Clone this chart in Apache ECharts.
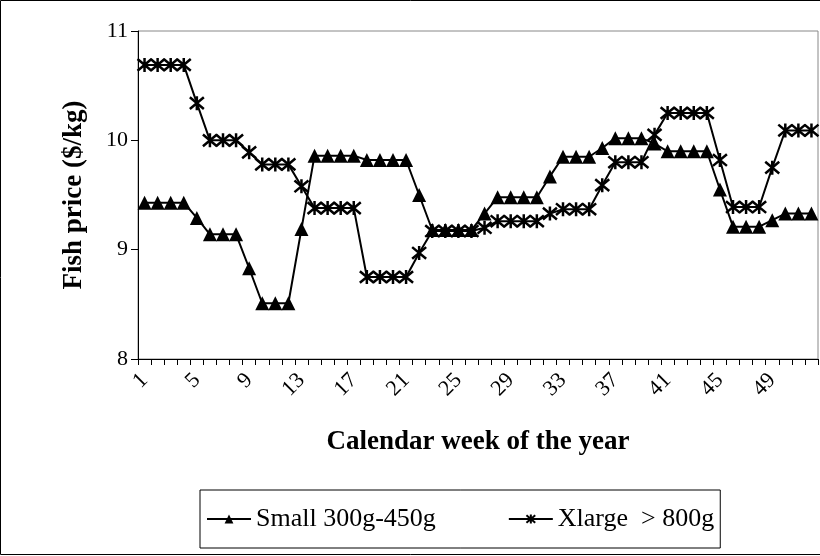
<!DOCTYPE html>
<html>
<head>
<meta charset="utf-8">
<script src="https://cdn.jsdelivr.net/npm/echarts@6/dist/echarts.min.js"></script>
<style>
  html,body{margin:0;padding:0;background:#fff;}
  #main{width:820px;height:556px;}
</style>
</head>
<body>
<div id="main"></div>
<script>
// calendar weeks
var weeks = ['1','2','3','4','5','6','7','8','9','10','11','12','13','14','15','16','17','18','19','20','21','22','23','24','25','26',
  '27','28','29','30','31','32','33','34','35','36','37','38','39','40','41','42','43','44','45','46','47','48','49','50','51','52'];

// Small 300g-450g
var smallPrice = [9.43,9.43,9.43,9.43,9.29,9.14,9.14,9.14,8.83,8.51,8.51,8.51,9.19,9.86,9.86,9.86,9.86,9.82,9.82,9.82,9.82,9.50,
  9.18,9.18,9.18,9.18,9.33,9.48,9.48,9.48,9.48,9.67,9.85,9.85,9.85,9.93,10.02,10.02,10.02,9.97,9.90,9.90,9.90,9.90,
  9.55,9.21,9.21,9.21,9.27,9.33,9.33,9.33];

// Xlarge > 800g
var xlargePrice = [10.69,10.69,10.69,10.69,10.34,10.0,10.0,10.0,9.89,9.78,9.78,9.78,9.58,9.38,9.38,9.38,9.38,8.75,8.75,8.75,8.75,8.97,
  9.17,9.17,9.17,9.17,9.20,9.26,9.26,9.26,9.26,9.33,9.37,9.37,9.37,9.59,9.80,9.80,9.80,10.05,10.25,10.25,10.25,10.25,
  9.82,9.39,9.39,9.39,9.75,10.09,10.09,10.09];

var yTicks = [8, 9, 10, 11];

var seriesNames = ['Small 300g-450g', 'Xlarge  > 800g'];

var font = '"Liberation Serif","Times New Roman",serif';
var starPath = 'path://M0,0L10,10M10,0L0,10M5,-1L5,11';

var chart = echarts.init(document.getElementById('main'));

var opt = {
  animation: false,
  backgroundColor: '#fff',
  textStyle: {fontFamily: font, color: '#000'},
  grid: {
    left: 138, right: 2, top: 31, bottom: 197,
    show: true, borderColor: '#888', borderWidth: 1
  },
  legend: {
    left: 200, top: 490,
    padding: [16, 6, 16, 6],
    borderColor: '#000', borderWidth: 1,
    itemWidth: 44, itemHeight: 11, itemGap: 72,
    textStyle: {fontFamily: font, fontSize: 26, color: '#000'},
    data: seriesNames
  },
  xAxis: {
    type: 'category',
    data: weeks,
    boundaryGap: true,
    name: 'Calendar week of the year',
    nameLocation: 'middle',
    nameGap: 70,
    nameTextStyle: {fontFamily: font, fontSize: 27, fontWeight: 'bold', color: '#000'},
    axisLine: {lineStyle: {color: '#000', width: 1}},
    axisTick: {show: true, interval: 0, length: 6, lineStyle: {color: '#000'}},
    axisLabel: {interval: 3, rotate: 45, fontSize: 22, margin: 18, color: '#000', fontFamily: font},
    splitLine: {show: false}
  },
  yAxis: {
    type: 'value',
    min: yTicks[0], max: yTicks[yTicks.length - 1], interval: 1,
    name: 'Fish price ($/kg)',
    nameLocation: 'middle',
    nameGap: 50,
    nameTextStyle: {fontFamily: font, fontSize: 27, fontWeight: 'bold', color: '#000'},
    axisLine: {show: true, lineStyle: {color: '#000', width: 1}},
    axisTick: {show: true, length: 7, lineStyle: {color: '#000'}},
    axisLabel: {fontSize: 22, margin: 10, color: '#000', fontFamily: font},
    splitLine: {show: false}
  },
  graphic: [{
    type: 'rect',
    shape: {x: 0.5, y: 0.5, width: 830, height: 554},
    style: {fill: 'none', stroke: '#000', lineWidth: 1},
    silent: true
  }],
  series: [{
    name: seriesNames[0],
    type: 'line',
    data: smallPrice,
    symbol: 'triangle',
    symbolSize: 14,
    showAllSymbol: true,
    lineStyle: {color: '#000', width: 2},
    itemStyle: {color: '#000', borderColor: '#000', borderWidth: 0}
  }, {
    name: seriesNames[1],
    type: 'line',
    data: xlargePrice,
    symbol: starPath,
    symbolSize: 14,
    showAllSymbol: true,
    lineStyle: {color: '#000', width: 2},
    itemStyle: {color: '#000', borderColor: '#000', borderWidth: 2.5}
  }]
};

chart.setOption(opt);
</script>
</body>
</html>
